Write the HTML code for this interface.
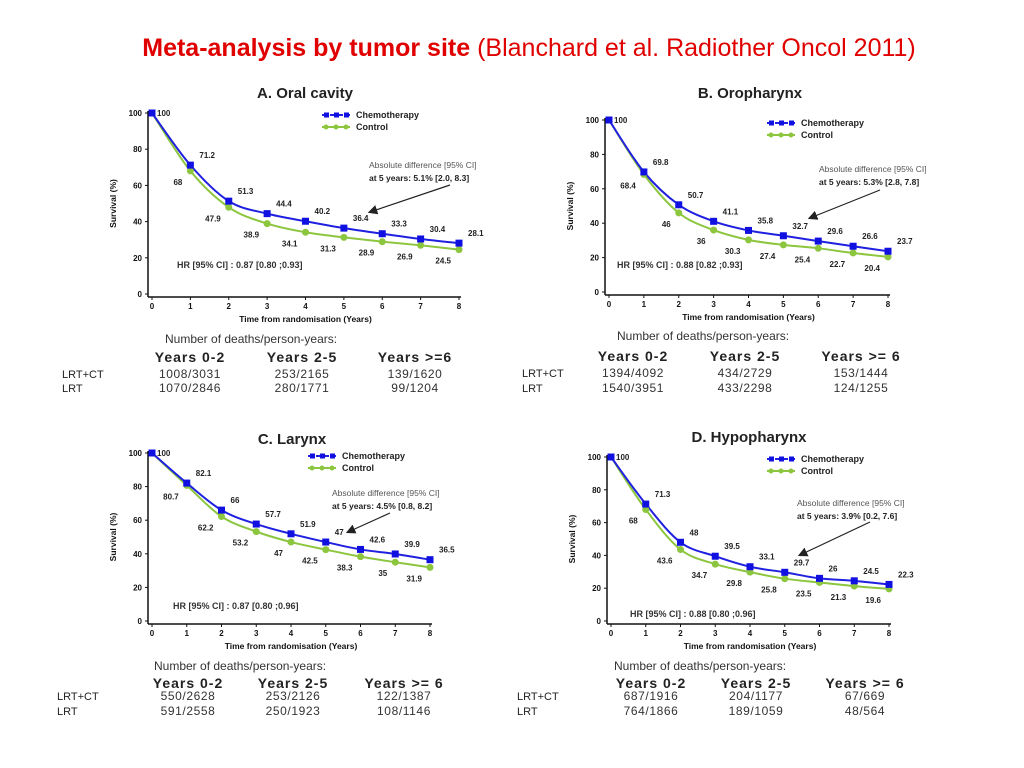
<!DOCTYPE html>
<html><head><meta charset="utf-8"><style>
html,body{margin:0;padding:0;background:#fff;}
svg{display:block;font-family:"Liberation Sans",Arial,sans-serif;}
</style></head><body>
<svg id="s" width="1024" height="768" viewBox="0 0 1024 768">
<text x="529" y="56" text-anchor="middle" fill="#e00000" font-size="25"><tspan font-weight="bold">Meta-analysis by tumor site </tspan><tspan>(Blanchard et al. Radiother Oncol 2011)</tspan></text>
</svg>
<script>
const years=[0,1,2,3,4,5,6,7,8];
const yTicks=[0,20,40,60,80,100];
const chemoA=[100,71.2,51.3,44.4,40.2,36.4,33.3,30.4,28.1];
const ctrlA=[100,68,47.9,38.9,34.1,31.3,28.9,26.9,24.5];
const chemoB=[100,69.8,50.7,41.1,35.8,32.7,29.6,26.6,23.7];
const ctrlB=[100,68.4,46,36,30.3,27.4,25.4,22.7,20.4];
const chemoC=[100,82.1,66,57.7,51.9,47,42.6,39.9,36.5];
const ctrlC=[100,80.7,62.2,53.2,47,42.5,38.3,35,31.9];
const chemoD=[100,71.3,48,39.5,33.1,29.7,26,24.5,22.3];
const ctrlD=[100,68,43.6,34.7,29.8,25.8,23.5,21.3,19.6];
const titles=["A. Oral cavity","B. Oropharynx","C. Larynx","D. Hypopharynx"];
const diffs=["5.1% [2.0, 8.3]","5.3% [2.8, 7.8]","4.5% [0.8, 8.2]","3.9% [0.2, 7.6]"];
const hrs=["0.87 [0.80 ;0.93]","0.88 [0.82 ;0.93]","0.87 [0.80 ;0.96]","0.88 [0.80 ;0.96]"];
const headers=[["Years 0-2","Years 2-5","Years >=6"],["Years 0-2","Years 2-5","Years >= 6"],["Years 0-2","Years 2-5","Years >= 6"],["Years 0-2","Years 2-5","Years >= 6"]];
const rowCT=[["1008/3031","253/2165","139/1620"],["1394/4092","434/2729","153/1444"],["550/2628","253/2126","122/1387"],["687/1916","204/1177","67/669"]];
const rowLRT=[["1070/2846","280/1771","99/1204"],["1540/3951","433/2298","124/1255"],["591/2558","250/1923","108/1146"],["764/1866","189/1059","48/564"]];
const chemo=[chemoA,chemoB,chemoC,chemoD], ctrl=[ctrlA,ctrlB,ctrlC,ctrlD];
const L=[
 {x0:152,x8:459,y100:113,y0:294,tx:305,ty:98,lgx:322,lgy:115,ax:369,ay:168,ar:[450,185,370,212],hx:177,hy:268,nx:165,ny:343,hy2:362,cols:[190,302,415],rx:62,r1:378,r2:392},
 {x0:609,x8:888,y100:120,y0:292,tx:750,ty:98,lgx:767,lgy:123,ax:819,ay:172,ar:[880,190,810,218],hx:617,hy:268,nx:617,ny:340,hy2:361,cols:[633,745,861],rx:522,r1:377,r2:392},
 {x0:152,x8:430,y100:453,y0:621,tx:292,ty:444,lgx:308,lgy:456,ax:332,ay:496,ar:[390,513,348,532],hx:173,hy:609,nx:154,ny:670,hy2:688,cols:[188,293,404],rx:57,r1:700,r2:715},
 {x0:611,x8:889,y100:457,y0:621,tx:749,ty:442,lgx:767,lgy:459,ax:797,ay:506,ar:[870,522,800,555],hx:630,hy:617,nx:614,ny:670,hy2:688,cols:[651,756,865],rx:517,r1:700,r2:715}
];
const NS="http://www.w3.org/2000/svg";
const svg=document.getElementById('s');
function el(tag,attrs,parent,txt){const e=document.createElementNS(NS,tag);for(const k in attrs)e.setAttribute(k,attrs[k]);if(txt!==undefined)e.textContent=txt;(parent||svg).appendChild(e);return e;}
function smooth(pts){let d='M'+pts[0][0]+','+pts[0][1];for(let k=0;k<pts.length-1;k++){const p0=pts[k-1]||pts[k],p1=pts[k],p2=pts[k+1],p3=pts[k+2]||p2;const c1=[p1[0]+(p2[0]-p0[0])/6,p1[1]+(p2[1]-p0[1])/6],c2=[p2[0]-(p3[0]-p1[0])/6,p2[1]-(p3[1]-p1[1])/6];d+=` C${c1[0]},${c1[1]} ${c2[0]},${c2[1]} ${p2[0]},${p2[1]}`;}return d;}
const defs=el('defs',{});
const mk=el('marker',{id:'arr',markerWidth:8,markerHeight:8,refX:6,refY:4,orient:'auto'},defs);
el('path',{d:'M0,0 L8,4 L0,8 z',fill:'#222'},mk);
L.forEach((p,i)=>{
  const g=el('g',{});
  
  
  const X=v=>p.x0+(p.x8-p.x0)*v/8, Y=v=>p.y0-(p.y0-p.y100)*v/100;
  const t=el('text',{x:p.tx,y:p.ty,'text-anchor':'middle','font-size':15,'font-weight':'bold',fill:'#222'},g,titles[i]);
  
  
  const axL=p.x0-4, axB=p.y0+3;
  el('line',{x1:axL,y1:Y(100)-2,x2:axL,y2:axB,stroke:'#111','stroke-width':1.5},g);
  el('line',{x1:axL,y1:axB,x2:X(8)+2,y2:axB,stroke:'#111','stroke-width':1.5},g);
  yTicks.forEach(v=>{
    el('line',{x1:axL-3,y1:Y(v),x2:axL,y2:Y(v),stroke:'#111'},g);
    const tl=el('text',{x:axL-6,y:Y(v)+3,'text-anchor':'end','font-size':8,'font-weight':'bold',fill:'#111'},g,v);
    
    
  });
  years.forEach(v=>{
    el('line',{x1:X(v),y1:axB,x2:X(v),y2:axB+3,stroke:'#111'},g);
    const tl=el('text',{x:X(v),y:axB+12,'text-anchor':'middle','font-size':8,'font-weight':'bold',fill:'#111'},g,v);
    
    
  });
  const xt=el('text',{x:(p.x0+p.x8)/2,y:axB+25,'text-anchor':'middle','font-size':8.5,'font-weight':'bold',fill:'#111'},g,'Time from randomisation (Years)');
  
  
  const ym=(p.y0+p.y100)/2, yx=axL-32;
  const yt=el('text',{x:yx,y:ym,'text-anchor':'middle','font-size':8.5,'font-weight':'bold',fill:'#111',transform:`rotate(-90 ${yx} ${ym})`},g,'Survival (%)');
  
  
  const lc=el('path',{d:smooth(years.map((v,k)=>[X(v),Y(ctrl[i][k])])),fill:'none',stroke:'#8cc63f','stroke-width':2},g);
  
  
  const lb=el('path',{d:smooth(years.map((v,k)=>[X(v),Y(chemo[i][k])])),fill:'none',stroke:'#2020e0','stroke-width':2},g);
  
  
  years.forEach((v,k)=>{
    const c=el('circle',{cx:X(v),cy:Y(ctrl[i][k]),r:3.5,fill:'#8cc63f'},g);
    
    
    const r=el('rect',{x:X(v)-3.5,y:Y(chemo[i][k])-3.5,width:7,height:7,fill:'#1010e0'},g);
    
    
    const ta=el('text',{x:X(v)+(k==0?5:9),y:Y(chemo[i][k])+(k==0?3:-7),'font-size':8,'font-weight':'bold',fill:'#222'},g,chemo[i][k]);
    
    
    if(k>0){
      const tb=el('text',{x:X(v)-8,y:Y(ctrl[i][k])+14,'text-anchor':'end','font-size':8,'font-weight':'bold',fill:'#222'},g,ctrl[i][k]);
      
      
    }
  });
  const lg=el('g',{},g);
  
  
  el('line',{x1:p.lgx,y1:p.lgy,x2:p.lgx+28,y2:p.lgy,stroke:'#2020e0','stroke-width':2,'stroke-dasharray':'5,3'},lg);
  [0,10,20].forEach(d=>el('rect',{x:p.lgx+d+2,y:p.lgy-2.5,width:5,height:5,fill:'#1010e0'},lg));
  el('text',{x:p.lgx+34,y:p.lgy+3,'font-size':9,'font-weight':'bold',fill:'#222'},lg,'Chemotherapy');
  el('line',{x1:p.lgx,y1:p.lgy+12,x2:p.lgx+28,y2:p.lgy+12,stroke:'#8cc63f','stroke-width':2},lg);
  [0,10,20].forEach(d=>el('circle',{cx:p.lgx+d+4,cy:p.lgy+12,r:2.5,fill:'#8cc63f'},lg));
  el('text',{x:p.lgx+34,y:p.lgy+15,'font-size':9,'font-weight':'bold',fill:'#222'},lg,'Control');
  const an=el('text',{x:p.ax,y:p.ay,'font-size':8.5,fill:'#555'},g,'Absolute difference [95% CI]');
  
  
  el('text',{x:p.ax,y:p.ay+13,'font-size':8.5,fill:'#222','font-weight':'bold'},g,'at 5 years: '+diffs[i]);
  el('line',{x1:p.ar[0],y1:p.ar[1],x2:p.ar[2],y2:p.ar[3],stroke:'#222','stroke-width':1.2,'marker-end':'url(#arr)'},g);
  const hr=el('text',{x:p.hx,y:p.hy,'font-size':9,'font-weight':'bold',fill:'#333'},g,'HR [95% CI] : '+hrs[i]);
  
  
  const tg=el('g',{},g);
  
  
  el('text',{x:p.nx,y:p.ny,'font-size':12,fill:'#333'},tg,'Number of deaths/person-years:');
  headers[i].forEach((h,c)=>el('text',{x:p.cols[c],y:p.hy2,'text-anchor':'middle','font-size':14,'font-weight':'bold',fill:'#222','letter-spacing':'1'},tg,h));
  el('text',{x:p.rx,y:p.r1,'font-size':11,fill:'#222'},tg,'LRT+CT');
  el('text',{x:p.rx,y:p.r2,'font-size':11,fill:'#222'},tg,'LRT');
  rowCT[i].forEach((h,c)=>el('text',{x:p.cols[c],y:p.r1,'text-anchor':'middle','font-size':12,fill:'#333','letter-spacing':'0.6'},tg,h));
  rowLRT[i].forEach((h,c)=>el('text',{x:p.cols[c],y:p.r2,'text-anchor':'middle','font-size':12,fill:'#333','letter-spacing':'0.6'},tg,h));
});
</script>
</body></html>
